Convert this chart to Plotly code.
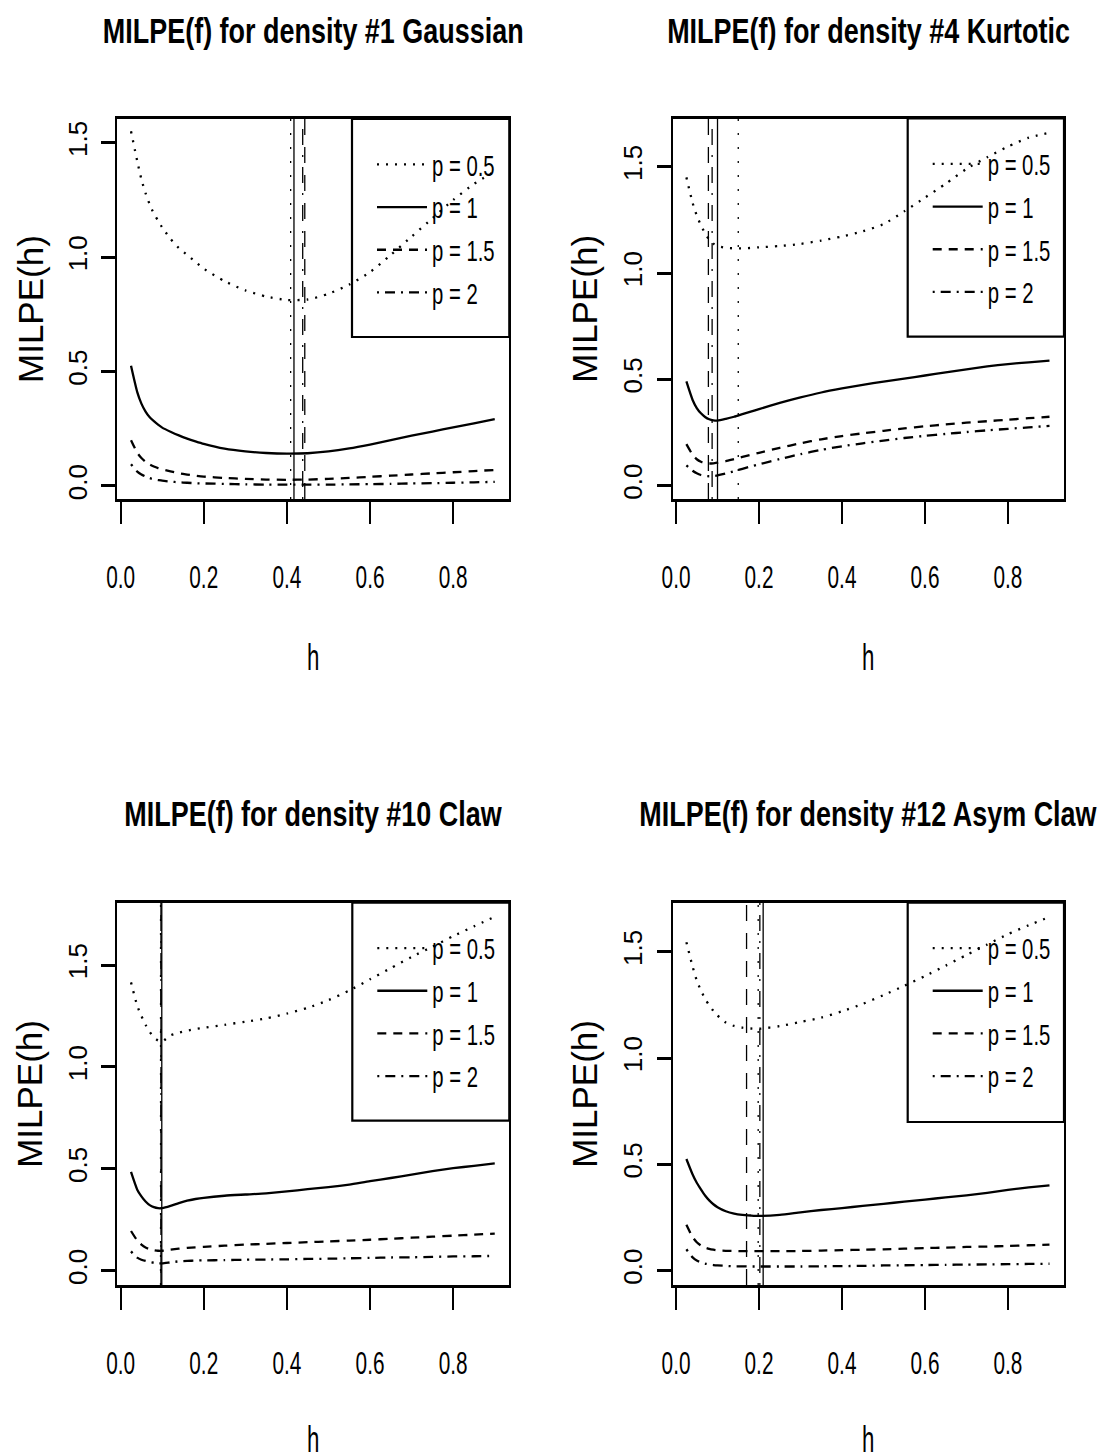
import plotly.graph_objects as go

# ---------------- data ----------------
H = [0.025, 0.04, 0.05, 0.06, 0.07, 0.08, 0.09, 0.1, 0.12, 0.14, 0.16, 0.18, 0.2,
     0.25, 0.3, 0.35, 0.4, 0.45, 0.5, 0.55, 0.6, 0.65, 0.7, 0.75, 0.8, 0.85, 0.9]

P_LABELS = ["p = 0.5", "p = 1", "p = 1.5", "p = 2"]

TITLES = ["MILPE(f) for density #1 Gaussian", "MILPE(f) for density #4 Kurtotic",
          "MILPE(f) for density #10 Claw", "MILPE(f) for density #12 Asym Claw"]

# density #1 Gaussian
gauss_p05 = [1.55, 1.42, 1.34, 1.28, 1.23, 1.19, 1.16, 1.13, 1.08, 1.04, 1.01, 0.98, 0.95,
             0.895, 0.855, 0.828, 0.813, 0.815, 0.84, 0.88, 0.935, 1.01, 1.09, 1.17, 1.25, 1.32, 1.375]
gauss_p1 = [0.525, 0.41, 0.36, 0.325, 0.30, 0.283, 0.268, 0.255, 0.237, 0.221, 0.207, 0.195, 0.184,
            0.163, 0.151, 0.144, 0.141, 0.143, 0.151, 0.164, 0.181, 0.20, 0.22, 0.238, 0.256, 0.274, 0.292]
gauss_p15 = [0.20, 0.145, 0.122, 0.106, 0.094, 0.085, 0.078, 0.073, 0.064, 0.056, 0.050, 0.045, 0.041,
             0.035, 0.031, 0.028, 0.027, 0.028, 0.031, 0.035, 0.040, 0.045, 0.050, 0.055, 0.060, 0.065, 0.070]
gauss_p2 = [0.095, 0.063, 0.050, 0.041, 0.034, 0.029, 0.026, 0.023, 0.019, 0.016, 0.014, 0.012, 0.011,
            0.009, 0.007, 0.006, 0.006, 0.006, 0.006, 0.007, 0.008, 0.009, 0.011, 0.012, 0.014, 0.016, 0.018]
gauss_hopt = [0.409, 0.417, 0.443, 0.438]

# density #4 Kurtotic
kurt_p05 = [1.45, 1.33, 1.27, 1.225, 1.187, 1.157, 1.138, 1.127, 1.119, 1.116, 1.116, 1.118, 1.121,
            1.127, 1.137, 1.153, 1.172, 1.196, 1.23, 1.29, 1.355, 1.42, 1.49, 1.545, 1.595, 1.637, 1.66]
kurt_p1 = [0.49, 0.403, 0.365, 0.34, 0.323, 0.312, 0.307, 0.306, 0.314, 0.324, 0.336, 0.348, 0.36,
           0.389, 0.415, 0.438, 0.457, 0.474, 0.489, 0.503, 0.518, 0.533, 0.547, 0.561, 0.572, 0.58, 0.588]
kurt_p15 = [0.195, 0.145, 0.124, 0.112, 0.106, 0.104, 0.105, 0.108, 0.115, 0.125, 0.135, 0.145, 0.154,
            0.178, 0.199, 0.218, 0.233, 0.246, 0.258, 0.269, 0.279, 0.288, 0.296, 0.303, 0.31, 0.317, 0.324]
kurt_p2 = [0.095, 0.07, 0.058, 0.05, 0.046, 0.044, 0.045, 0.048, 0.057, 0.068, 0.079, 0.09, 0.10,
           0.125, 0.148, 0.168, 0.185, 0.199, 0.212, 0.224, 0.234, 0.243, 0.252, 0.26, 0.267, 0.274, 0.281]
kurt_hopt = [0.15, 0.10, 0.078, 0.087]

# density #10 Claw
claw_p05 = [1.415, 1.30, 1.25, 1.207, 1.172, 1.145, 1.13, 1.125, 1.155, 1.168, 1.178, 1.186, 1.192,
            1.207, 1.222, 1.238, 1.262, 1.29, 1.328, 1.375, 1.43, 1.485, 1.54, 1.59, 1.642, 1.69, 1.737]
claw_p1 = [0.485, 0.398, 0.365, 0.34, 0.322, 0.312, 0.307, 0.307, 0.318, 0.332, 0.344, 0.352, 0.358,
           0.368, 0.374, 0.38, 0.389, 0.40, 0.41, 0.423, 0.44, 0.455, 0.472, 0.489, 0.503, 0.515, 0.527]
claw_p15 = [0.195, 0.148, 0.128, 0.114, 0.106, 0.101, 0.098, 0.098, 0.103, 0.108, 0.112, 0.115, 0.117,
            0.123, 0.128, 0.132, 0.136, 0.14, 0.144, 0.148, 0.152, 0.157, 0.162, 0.167, 0.172, 0.177, 0.182]
claw_p2 = [0.095, 0.064, 0.054, 0.048, 0.043, 0.039, 0.036, 0.036, 0.041, 0.046, 0.048, 0.05, 0.051,
           0.052, 0.054, 0.055, 0.056, 0.058, 0.059, 0.061, 0.063, 0.065, 0.066, 0.068, 0.07, 0.071, 0.073]
claw_hopt = [0.096, 0.099, 0.097, 0.097]

# density #12 Asym Claw
asym_p05 = [1.545, 1.43, 1.365, 1.318, 1.279, 1.248, 1.222, 1.20, 1.167, 1.151, 1.143, 1.139, 1.138,
            1.15, 1.17, 1.19, 1.22, 1.255, 1.296, 1.34, 1.386, 1.435, 1.485, 1.534, 1.583, 1.625, 1.664]
asym_p1 = [0.525, 0.452, 0.413, 0.382, 0.353, 0.33, 0.312, 0.298, 0.279, 0.268, 0.262, 0.259, 0.257,
           0.262, 0.274, 0.285, 0.294, 0.304, 0.314, 0.324, 0.334, 0.344, 0.354, 0.366, 0.38, 0.391, 0.401]
asym_p15 = [0.215, 0.157, 0.133, 0.118, 0.108, 0.102, 0.098, 0.095, 0.093, 0.092, 0.091, 0.091, 0.091,
            0.091, 0.092, 0.094, 0.096, 0.098, 0.10, 0.103, 0.106, 0.108, 0.111, 0.113, 0.116, 0.119, 0.122]
asym_p2 = [0.10, 0.062, 0.047, 0.039, 0.033, 0.029, 0.026, 0.024, 0.022, 0.02, 0.02, 0.019, 0.019,
           0.019, 0.019, 0.02, 0.021, 0.022, 0.024, 0.025, 0.026, 0.027, 0.028, 0.029, 0.03, 0.031, 0.032]
asym_hopt = [0.198, 0.21, 0.17, 0.202]

X_TICKS = [0.0, 0.2, 0.4, 0.6, 0.8]
X_TICK_TEXT = ["0.0", "0.2", "0.4", "0.6", "0.8"]
Y_TICKS = [0.0, 0.5, 1.0, 1.5]
Y_TICK_TEXT = ["0.0", "0.5", "1.0", "1.5"]

SERIES = [
    [gauss_p05, gauss_p1, gauss_p15, gauss_p2],
    [kurt_p05, kurt_p1, kurt_p15, kurt_p2],
    [claw_p05, claw_p1, claw_p15, claw_p2],
    [asym_p05, asym_p1, asym_p15, asym_p2],
]
HOPT = [gauss_hopt, kurt_hopt, claw_hopt, asym_hopt]

# ---------------- layout / style ----------------
W, HT = 1098, 1456
REG = "Liberation Sans, Arial, Helvetica, sans-serif"

def fx(px):
    return px / W

def fy(py):
    return 1 - py / HT

# plot boxes in pixels: left, top, right, bottom
BOXES = [(117.3, 119, 509.3, 499), (672.7, 118.5, 1064, 499),
         (117.3, 902.7, 509.3, 1285), (672.7, 902.7, 1064, 1285)]
Y_RANGES = [[-0.057, 1.604], [-0.063, 1.727], [-0.070, 1.806], [-0.068, 1.731]]
X_RANGE = [-0.008, 0.935]
LEG_BOXES = [(352, 119, 509.3, 337), (907.7, 118.5, 1064, 336.7),
             (352.3, 902.7, 509.3, 1120.7), (907.7, 902.7, 1064, 1122)]
TITLE_Y = [30, 30, 813, 813]
XLAB_Y = [658, 658, 1439, 1439]
YLAB_X = [30, 585, 30, 585]

CURVE_DASH = ["2px,7px", "solid", "9px,7px", "2px,6px,10px,6px"]
VLINE_DASH = ["2px,12px", "solid", "16px,12px", "2px,10px,16px,10px"]

fig = go.Figure()
annotations = []
shapes = []
layout = {}

for i in range(4):
    xa = "x" if i == 0 else f"x{i+1}"
    ya = "y" if i == 0 else f"y{i+1}"
    leg = "legend" if i == 0 else f"legend{i+1}"
    l, t, r, b = BOXES[i]
    for k in range(4):
        fig.add_trace(go.Scatter(
            x=H, y=SERIES[i][k], mode="lines", name=P_LABELS[k],
            line=dict(color="black", width=2.3, dash=CURVE_DASH[k], shape="spline", smoothing=0.6),
            xaxis=xa, yaxis=ya, legend=leg, legendgroup=f"g{i}_{k}", hoverinfo="skip"))
        shapes.append(dict(type="line", xref=xa, yref=f"{ya} domain", x0=HOPT[i][k], x1=HOPT[i][k],
                           y0=0, y1=1, line=dict(color="black", width=1.3, dash=VLINE_DASH[k])))
    xkey = "xaxis" if i == 0 else f"xaxis{i+1}"
    ykey = "yaxis" if i == 0 else f"yaxis{i+1}"
    layout[xkey] = dict(domain=[fx(l), fx(r)], range=X_RANGE, anchor=ya, automargin=False,
                        showgrid=False, zeroline=False, showline=True, mirror=True,
                        linecolor="black", linewidth=2.6, ticks="outside", ticklen=22,
                        tickwidth=2, tickcolor="black", tickmode="array",
                        tickvals=X_TICKS, ticktext=X_TICK_TEXT, ticklabelstandoff=26,
                        tickfont=dict(family=REG, size=32, color="black"))
    layout[ykey] = dict(domain=[fy(b), fy(t)], range=Y_RANGES[i], anchor=xa, automargin=False,
                        showgrid=False, zeroline=False, showline=True, mirror=True,
                        linecolor="black", linewidth=2, ticks="outside", ticklen=14,
                        tickwidth=2.5, tickcolor="black", tickmode="array",
                        tickvals=Y_TICKS, ticktext=Y_TICK_TEXT, tickangle=-90,
                        ticklabelstandoff=4,
                        tickfont=dict(family=REG, size=26, color="black"))
    ll, lt, lr, lb = LEG_BOXES[i]
    shapes.append(dict(type="rect", xref="paper", yref="paper", x0=fx(ll), x1=fx(lr),
                       y0=fy(lb), y1=fy(lt), line=dict(color="black", width=2.2)))
    layout[leg] = dict(x=fx(ll + 20), y=fy(lt + 20), xanchor="left", yanchor="top",
                       bgcolor="rgba(0,0,0,0)", borderwidth=0, itemwidth=50,
                       tracegroupgap=2, traceorder="grouped",
                       font=dict(family=REG, size=29, color="black"))
    cx = (l + r) / 2
    annotations.append(dict(text=TITLES[i], xref="paper", yref="paper",
                            x=fx(cx), y=fy(TITLE_Y[i]), xanchor="center", yanchor="middle",
                            showarrow=False,
                            font=dict(family=REG, size=35, color="black", weight="bold")))
    annotations.append(dict(text="h", xref="paper", yref="paper", x=fx(cx), y=fy(XLAB_Y[i]),
                            xanchor="center", yanchor="middle", showarrow=False,
                            font=dict(family=REG, size=37, color="black")))
    annotations.append(dict(text="MILPE(h)", xref="paper", yref="paper", x=fx(YLAB_X[i]),
                            y=fy((t + b) / 2), xanchor="center", yanchor="middle", textangle=-90,
                            showarrow=False, font=dict(family=REG, size=35, color="black")))

fig.update_layout(width=W, height=HT,
                  margin=dict(l=0, r=0, t=0, b=0, pad=0, autoexpand=False),
                  paper_bgcolor="white", plot_bgcolor="white", showlegend=True,
                  annotations=annotations, shapes=shapes, **layout)

# horizontal text in the reference is set in a condensed face; condense the SVG text
POST = """
var gd = document.getElementById('{plot_id}');
function squeeze(el, f) {
  if (el.getAttribute('data-sq')) { return; }
  var w = el.getComputedTextLength();
  if (!(w > 0)) { return; }
  el.setAttribute('textLength', (w * f).toFixed(2));
  el.setAttribute('lengthAdjust', 'spacingAndGlyphs');
  el.setAttribute('data-sq', '1');
}
function applySqueeze() {
  gd.querySelectorAll('.xaxislayer-above text').forEach(function (t) { squeeze(t, 0.65); });
  gd.querySelectorAll('text.legendtext, text.legend2text, text.legend3text, text.legend4text')
    .forEach(function (t) { squeeze(t, 0.70); });
  gd.querySelectorAll('text.annotation-text').forEach(function (t) {
    var s = t.textContent;
    if (s.indexOf('MILPE(f)') === 0) { squeeze(t, 0.77); }
    else if (s === 'h') { squeeze(t, 0.6); }
  });
}
applySqueeze();
setTimeout(applySqueeze, 50);
setTimeout(applySqueeze, 400);
if (gd.on) { gd.on('plotly_afterplot', applySqueeze); }
"""

fig.write_html("out.html", post_script=POST)
